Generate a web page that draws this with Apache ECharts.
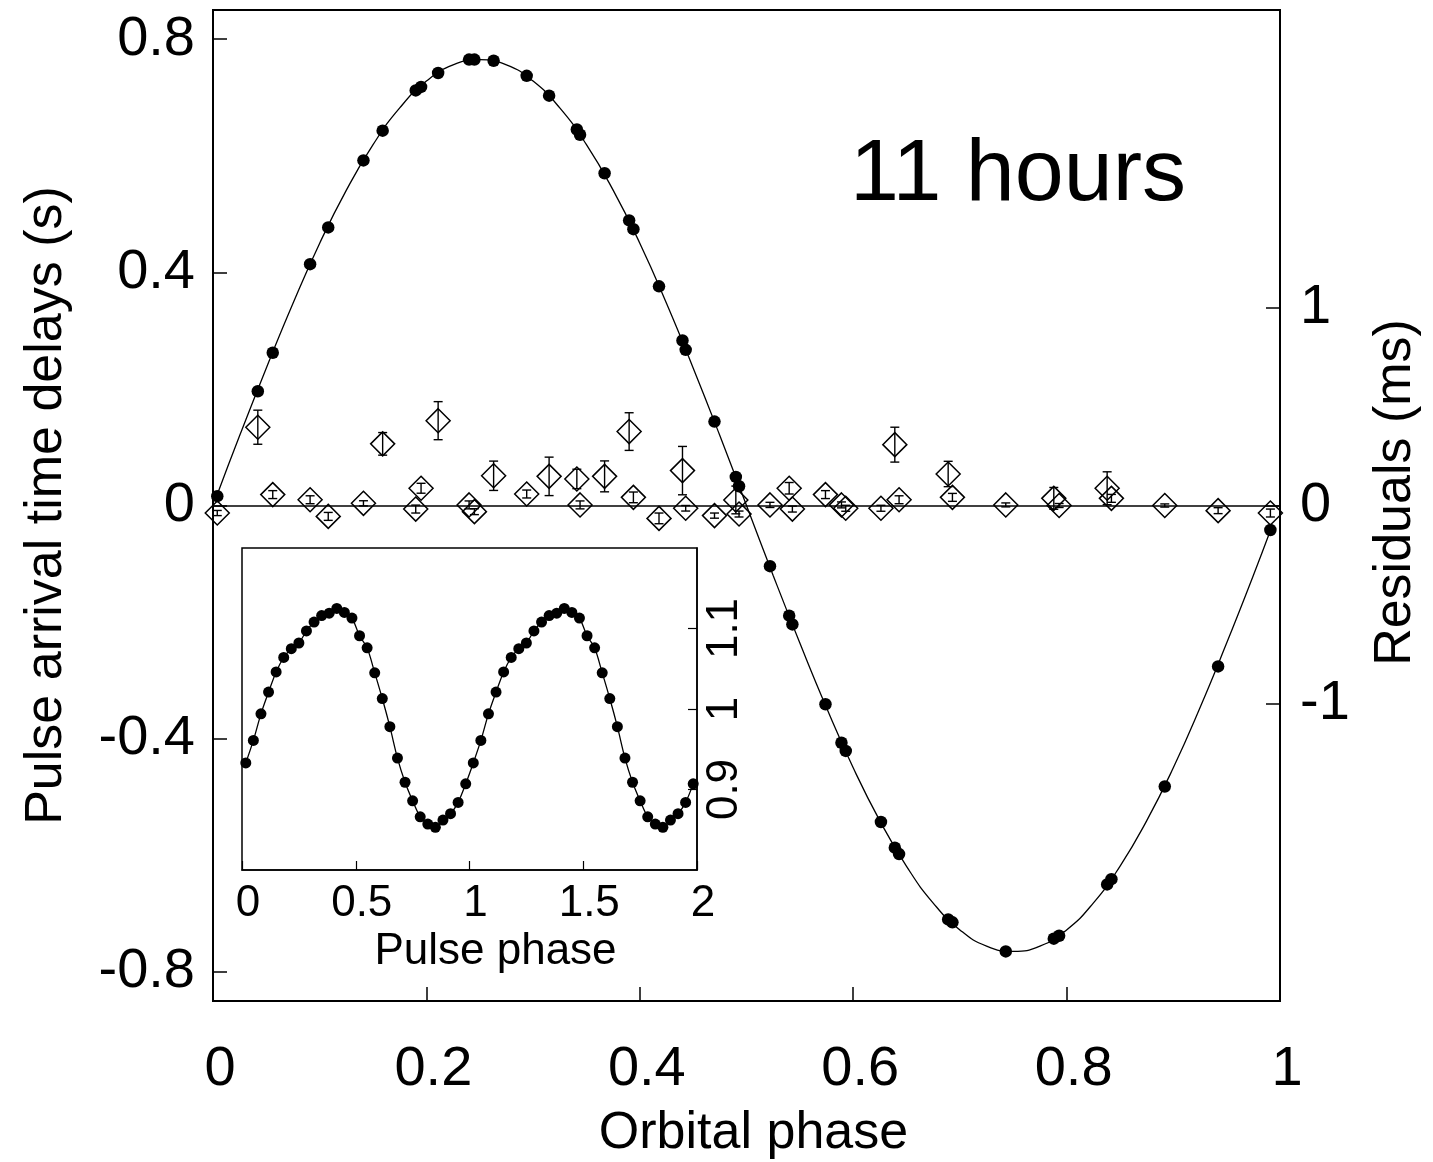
<!DOCTYPE html>
<html>
<head>
<meta charset="utf-8">
<script src="https://cdn.jsdelivr.net/npm/echarts@6/dist/echarts.min.js"></script>
<style>
  html, body { margin: 0; padding: 0; background: #fff; }
  #main { width: 1433px; height: 1162px; }
</style>
</head>
<body>
<div id="main"></div>
<script>
// orbital phase of each timing point
const orbitalPhase = [0.004, 0.042, 0.056, 0.091, 0.108, 0.141, 0.159, 0.190, 0.195, 0.211,
  0.240, 0.245, 0.263, 0.294, 0.315, 0.341, 0.344, 0.367, 0.390, 0.394,
  0.418, 0.440, 0.443, 0.470, 0.490, 0.493, 0.522, 0.540, 0.543, 0.574,
  0.589, 0.593, 0.626, 0.639, 0.643, 0.689, 0.693, 0.743, 0.788, 0.793,
  0.838, 0.842, 0.892, 0.942, 0.991];

// pulse arrival time delays (s)
const delays = [0.016, 0.196, 0.262, 0.414, 0.477, 0.592, 0.643, 0.712, 0.718, 0.742,
  0.765, 0.765, 0.763, 0.737, 0.703, 0.645, 0.636, 0.570, 0.489, 0.474,
  0.376, 0.283, 0.267, 0.144, 0.049, 0.033, -0.104, -0.189, -0.204, -0.341,
  -0.407, -0.421, -0.543, -0.587, -0.598, -0.710, -0.715, -0.765, -0.743, -0.738,
  -0.650, -0.641, -0.482, -0.276, -0.042];

// fitted orbit curve
const modelPhase = [0.004, 0.025, 0.05, 0.075, 0.1, 0.125, 0.15, 0.175, 0.2, 0.225,
  0.25, 0.275, 0.3, 0.325, 0.35, 0.375, 0.4, 0.425, 0.45, 0.475,
  0.5, 0.525, 0.55, 0.575, 0.6, 0.625, 0.65, 0.675, 0.7, 0.725,
  0.75, 0.775, 0.8, 0.825, 0.85, 0.875, 0.9, 0.925, 0.95, 0.975, 0.991];
const modelDelay = [0.019, 0.120, 0.236, 0.347, 0.450, 0.541, 0.619, 0.682, 0.728, 0.756,
  0.765, 0.756, 0.728, 0.682, 0.619, 0.541, 0.450, 0.347, 0.236, 0.120,
  0.000, -0.120, -0.236, -0.347, -0.450, -0.541, -0.619, -0.682, -0.728, -0.756,
  -0.765, -0.756, -0.728, -0.682, -0.619, -0.541, -0.450, -0.347, -0.236, -0.120, -0.043];

// residuals (ms) and their errors
const residuals = [-0.038, 0.395, 0.055, 0.029, -0.055, 0.011, 0.311, -0.018, 0.087, 0.428,
  0.003, -0.031, 0.150, 0.058, 0.147, 0.134, 0.003, 0.147, 0.373, 0.041,
  -0.065, 0.176, -0.014, -0.051, 0.028, -0.043, 0.003, 0.087, -0.018, 0.055,
  0.003, -0.014, -0.014, 0.307, 0.029, 0.159, 0.041, 0.003, 0.036, 0.000,
  0.087, 0.036, 0.000, -0.026, -0.038];
const residualErr = [0.013, 0.086, 0.020, 0.020, 0.020, 0.013, 0.057, 0.020, 0.025, 0.096,
  0.020, 0.015, 0.074, 0.020, 0.097, 0.049, 0.020, 0.078, 0.095, 0.027,
  0.027, 0.122, 0.014, 0.013, 0.070, 0.015, 0.013, 0.029, 0.015, 0.020,
  0.015, 0.015, 0.015, 0.088, 0.020, 0.064, 0.020, 0.010, 0.055, 0.010,
  0.083, 0.020, 0.008, 0.015, 0.020];

// inset: folded pulse profile, 30 bins, shown for two cycles
const pulseProfile = [0.933, 0.961, 0.994, 1.021, 1.046, 1.064, 1.075, 1.082, 1.097, 1.108,
  1.116, 1.119, 1.125, 1.120, 1.113, 1.091, 1.076, 1.045, 1.013, 0.978,
  0.939, 0.909, 0.886, 0.866, 0.857, 0.853, 0.862, 0.870, 0.884, 0.907];
const pulseCycles = 2;

const leftTicks = [-0.8, -0.4, 0, 0.4, 0.8];
const rightTicks = [-1, 0, 1];
const insetTicks = [0.9, 1, 1.1];

const FONT = 'Liberation Sans';

const delayData = orbitalPhase.map((p, i) => [p, delays[i]]);
const modelData = modelPhase.map((p, i) => [p, modelDelay[i]]);
const residData = orbitalPhase.map((p, i) => [p, residuals[i]]);
const errData = orbitalPhase.map((p, i) => [p, residuals[i], residualErr[i]]);

const profileData = [];
for (let c = 0; c < pulseCycles; c++) {
  pulseProfile.forEach((v, i) => {
    profileData.push([c + (i + 0.5) / pulseProfile.length, v]);
  });
}

let myChart = echarts.init(document.getElementById('main'));

const axisText = { color: '#000', fontFamily: FONT, fontSize: 56 };

myChart.setOption({
  animation: false,
  backgroundColor: '#fff',
  grid: [
    { left: 213, top: 10, width: 1067, height: 991, outerBoundsMode: 'none', show: true, borderColor: '#000', borderWidth: 2, backgroundColor: 'transparent' },
    { left: 242, top: 548, width: 455, height: 322, outerBoundsMode: 'none', show: true, borderColor: '#000', borderWidth: 1.5, backgroundColor: '#fff', z: 5 }
  ],
  xAxis: [
    {
      gridIndex: 0, type: 'value', min: 0, max: 1, interval: 0.2,
      name: 'Orbital phase', nameLocation: 'middle', nameGap: 107,
      nameTextStyle: { color: '#000', fontFamily: FONT, fontSize: 52, padding: [0, 0, 0, 14] },
      axisLine: { onZero: false, lineStyle: { color: '#000', width: 2 } },
      axisTick: { inside: true, length: 14, lineStyle: { color: '#000', width: 1.5 } },
      axisLabel: Object.assign({ margin: 41, padding: [0, 0, 0, 14], formatter: v => String(v) }, axisText),
      splitLine: { show: false }
    },
    {
      gridIndex: 1, type: 'value', min: 0, max: 2, interval: 0.5,
      name: 'Pulse phase', nameLocation: 'middle', nameGap: 60,
      nameTextStyle: { color: '#000', fontFamily: FONT, fontSize: 44, padding: [0, 0, 0, 52] },
      axisLine: { onZero: false, lineStyle: { color: '#000', width: 1.5 } },
      axisTick: { inside: true, length: 9, lineStyle: { color: '#000', width: 1.2 } },
      axisLabel: { margin: 12, padding: [0, 0, 0, 12], color: '#000', fontFamily: FONT, fontSize: 44, formatter: v => String(v) },
      splitLine: { show: false },
      z: 6
    }
  ],
  yAxis: [
    {
      gridIndex: 0, type: 'value', min: -0.85, max: 0.85, position: 'left',
      name: 'Pulse arrival time delays (s)', nameLocation: 'middle', nameGap: 140, nameRotate: 90,
      nameTextStyle: { color: '#000', fontFamily: FONT, fontSize: 52 },
      axisLine: { onZero: false, lineStyle: { color: '#000', width: 2 } },
      axisTick: { inside: true, length: 14, customValues: leftTicks, lineStyle: { color: '#000', width: 1.5 } },
      axisLabel: Object.assign({ margin: 18, customValues: leftTicks, formatter: v => String(v) }, axisText),
      splitLine: { show: false }
    },
    {
      gridIndex: 0, type: 'value', min: -2.5, max: 2.5, position: 'right',
      name: 'Residuals (ms)', nameLocation: 'middle', nameGap: 90, nameRotate: 90,
      nameTextStyle: { color: '#000', fontFamily: FONT, fontSize: 52, padding: [0, 0, 0, 26] },
      axisLine: { onZero: false, lineStyle: { color: '#000', width: 2 } },
      axisTick: { inside: true, length: 14, customValues: rightTicks, lineStyle: { color: '#000', width: 1.5 } },
      axisLabel: Object.assign({ margin: 20, customValues: rightTicks, formatter: v => String(v) }, axisText),
      splitLine: { show: false }
    },
    {
      gridIndex: 1, type: 'value', min: 0.8, max: 1.2, position: 'right',
      axisLine: { onZero: false, lineStyle: { color: '#000', width: 1.5 } },
      axisTick: { inside: true, length: 9, customValues: insetTicks, lineStyle: { color: '#000', width: 1.2 } },
      axisLabel: { margin: 6, rotate: 90, customValues: insetTicks, color: '#000', fontFamily: FONT, fontSize: 44, formatter: v => String(v) },
      splitLine: { show: false },
      z: 6
    }
  ],
  graphic: [
    {
      type: 'text', x: 1018, y: 176, z: 10,
      style: { text: '11 hours', fill: '#000', font: '88px "Liberation Sans"', textAlign: 'center', textVerticalAlign: 'middle' }
    }
  ],
  series: [
    {
      name: 'orbit fit', type: 'line', xAxisIndex: 0, yAxisIndex: 0,
      data: modelData, smooth: true, showSymbol: false,
      lineStyle: { color: '#000', width: 1.3 },
      z: 3
    },
    {
      name: 'delays', type: 'scatter', xAxisIndex: 0, yAxisIndex: 0,
      data: delayData, symbol: 'circle', symbolSize: 12.5,
      itemStyle: { color: '#000', opacity: 1 },
      z: 4
    },
    {
      name: 'residuals', type: 'scatter', xAxisIndex: 0, yAxisIndex: 1,
      data: residData, symbol: 'diamond', symbolSize: 24,
      itemStyle: { color: 'rgba(0,0,0,0)', borderColor: '#000', borderWidth: 1.5, opacity: 1 },
      markLine: {
        silent: true, symbol: 'none', label: { show: false },
        lineStyle: { color: '#000', width: 1.5, type: 'solid' },
        data: [{ yAxis: 0 }]
      },
      z: 2
    },
    {
      name: 'residual errors', type: 'custom', xAxisIndex: 0, yAxisIndex: 1,
      data: errData,
      renderItem: (params, api) => {
        const x = api.value(0), y = api.value(1), e = api.value(2);
        const top = api.coord([x, y + e]);
        const bot = api.coord([x, y - e]);
        const cap = 4.5;
        const style = { stroke: '#000', lineWidth: 1.4 };
        return {
          type: 'group',
          children: [
            { type: 'line', shape: { x1: top[0], y1: top[1], x2: bot[0], y2: bot[1] }, style },
            { type: 'line', shape: { x1: top[0] - cap, y1: top[1], x2: top[0] + cap, y2: top[1] }, style },
            { type: 'line', shape: { x1: bot[0] - cap, y1: bot[1], x2: bot[0] + cap, y2: bot[1] }, style }
          ]
        };
      },
      z: 2
    },
    {
      name: 'pulse profile', type: 'line', xAxisIndex: 1, yAxisIndex: 2,
      data: profileData, smooth: 0.3,
      symbol: 'circle', symbolSize: 11, showAllSymbol: true,
      itemStyle: { color: '#000' },
      lineStyle: { color: '#000', width: 1.3 },
      z: 7
    }
  ]
});

window.addEventListener('resize', () => {
  myChart.resize();
});
</script>
</body>
</html>
